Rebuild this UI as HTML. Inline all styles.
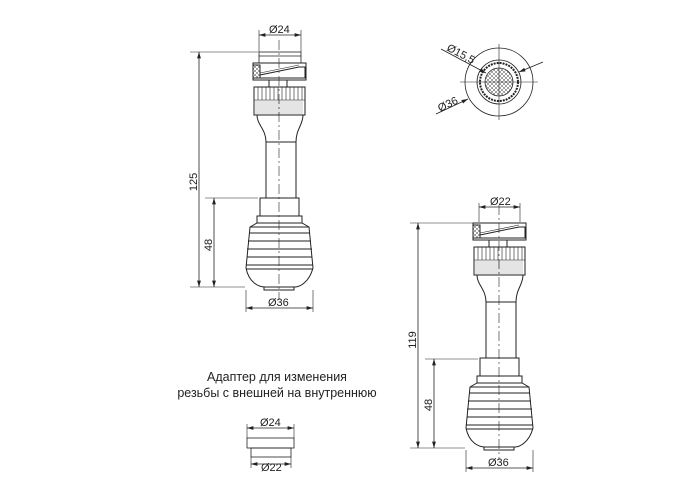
<!DOCTYPE html><html><head><meta charset="utf-8"><style>html,body{margin:0;padding:0;background:#fff}svg{display:block}text{font-family:"Liberation Sans",sans-serif;font-size:11px;fill:#222}</style></head><body>
<svg width="700" height="500" viewBox="0 0 700 500" xmlns="http://www.w3.org/2000/svg">
<defs>
<marker id="a" viewBox="0 0 10 6" refX="10" refY="3" markerWidth="8" markerHeight="5" orient="auto-start-reverse"><path d="M0,0L10,3L0,6z" fill="#222"/></marker>
<pattern id="h" width="4" height="4" patternUnits="userSpaceOnUse"><path d="M0,0L4,4M4,0L0,4" stroke="#444" stroke-width="0.5"/></pattern>
<g id="dev" fill="none" stroke="#222" stroke-width="1">
<rect x="-26" y="0" width="53" height="17" fill="#fff"/>
<rect x="-26" y="2" width="7" height="13" fill="url(#h)"/>
<path d="M-19,12L20,4L26,4L26,15L-19,15" />
<path d="M-19,10L20,2" stroke-width="0.6"/>
<path d="M-10,17v7h18v-7"/>
<rect x="-25" y="24" width="51" height="28"/>
<g stroke-width="0.6"><path d="M-21,24v13M-17,24v13M-13,24v13M-9,24v13M-5,24v13M-1,24v13M3,24v13M7,24v13M11,24v13M15,24v13M19,24v13M23,24v13"/>
<path d="M-25,37h51"/></g>
<g stroke-width="0.4" stroke="#777"><path d="M-23,37v15M-21,37v15M-19,37v15M-17,37v15M-15,37v15M-13,37v15M-11,37v15M-9,37v15M-7,37v15M-5,37v15M-3,37v15M-1,37v15M1,37v15M3,37v15M5,37v15M7,37v15M9,37v15M11,37v15M13,37v15M15,37v15M17,37v15M19,37v15M21,37v15M23,37v15"/></g>
<path d="M-22,52C-22,62,-13,66,-13,79H17C17,66,24,62,24,52"/>
<rect x="-13" y="79" width="30" height="56"/>
<rect x="-19" y="135" width="39" height="18"/>
<rect x="-22" y="153" width="45" height="7"/>
<path d="M-29,164L-22,160H23L30,164L34,205C30,220,20,224,16,224H-14C-20,224,-30,220,-33,205Z"/>
<path d="M-29,164H30M-30,170H31M-31,178H32M-32,186H33M-32,194H33M-33,202H34M-33,206H34"/>
<rect x="-15" y="224" width="30" height="3"/>
</g>
</defs>
<g stroke="#222" stroke-width="0.8" fill="none">
<rect x="259" y="52" width="42" height="11"/><path d="M259,56h42"/>
<use href="#dev" x="279" y="63"/>
<path d="M279,40V300" stroke-dasharray="10,3,2,3" stroke-width="0.6"/>
<path d="M259,52V30M301,52V30M246,290V312M313,290V312M190,52H258M190,287H245M205,198H258" stroke-width="0.6"/>
<path d="M259,35H301" marker-start="url(#a)" marker-end="url(#a)"/>
<path d="M246,308H313" marker-start="url(#a)" marker-end="url(#a)"/>
<path d="M199,52V287" marker-start="url(#a)" marker-end="url(#a)"/>
<path d="M214,198V287" marker-start="url(#a)" marker-end="url(#a)"/>
<use href="#dev" x="499" y="223"/>
<path d="M499,205V460" stroke-dasharray="10,3,2,3" stroke-width="0.6"/>
<path d="M479,222V203M520,222V203M466,450V472M533,450V472M410,223H478M410,448H465M425,359H478" stroke-width="0.6"/>
<path d="M479,207H520" marker-start="url(#a)" marker-end="url(#a)"/>
<path d="M466,468H533" marker-start="url(#a)" marker-end="url(#a)"/>
<path d="M418,223V448" marker-start="url(#a)" marker-end="url(#a)"/>
<path d="M434,359V448" marker-start="url(#a)" marker-end="url(#a)"/>
<circle cx="499" cy="82" r="34"/><circle cx="499" cy="82" r="22"/><circle cx="499" cy="82" r="19" stroke-dasharray="2,1" stroke-width="2"/>
<circle cx="499" cy="82" r="14" fill="url(#h)"/>
<path d="M460,82H538M499,44V120" stroke-width="0.6"/>
<path d="M441,49L486,73" marker-end="url(#a)"/><path d="M543,62L519,72" marker-end="url(#a)"/>
<path d="M436,114L468,99" marker-end="url(#a)"/>
<rect x="247" y="438" width="47" height="10"/><rect x="251" y="448" width="40" height="9"/>
<path d="M247,438V424M294,438V424M251,457V468M291,457V468" stroke-width="0.6"/>
<path d="M247,428H294" marker-start="url(#a)" marker-end="url(#a)"/>
<path d="M251,464H291" marker-start="url(#a)" marker-end="url(#a)"/>
</g>
<text x="269" y="33">Ø24</text><text x="268" y="306">Ø36</text>
<text x="490" y="205">Ø22</text><text x="488" y="466">Ø36</text>
<text transform="translate(197,182) rotate(-90)" text-anchor="middle">125</text>
<text transform="translate(212,245) rotate(-90)" text-anchor="middle">48</text>
<text transform="translate(416,340) rotate(-90)" text-anchor="middle">119</text>
<text transform="translate(432,405) rotate(-90)" text-anchor="middle">48</text>
<text transform="translate(446,50) rotate(28)" >Ø15,5</text>
<text transform="translate(440,112) rotate(-26)">Ø36</text>
<text x="260" y="426">Ø24</text><text x="261" y="471">Ø22</text>
<text x="277" y="381" text-anchor="middle" style="font-size:12.5px">Адаптер для изменения</text>
<text x="277" y="397" text-anchor="middle" style="font-size:12.5px">резьбы с внешней на внутреннюю</text>
</svg></body></html>
